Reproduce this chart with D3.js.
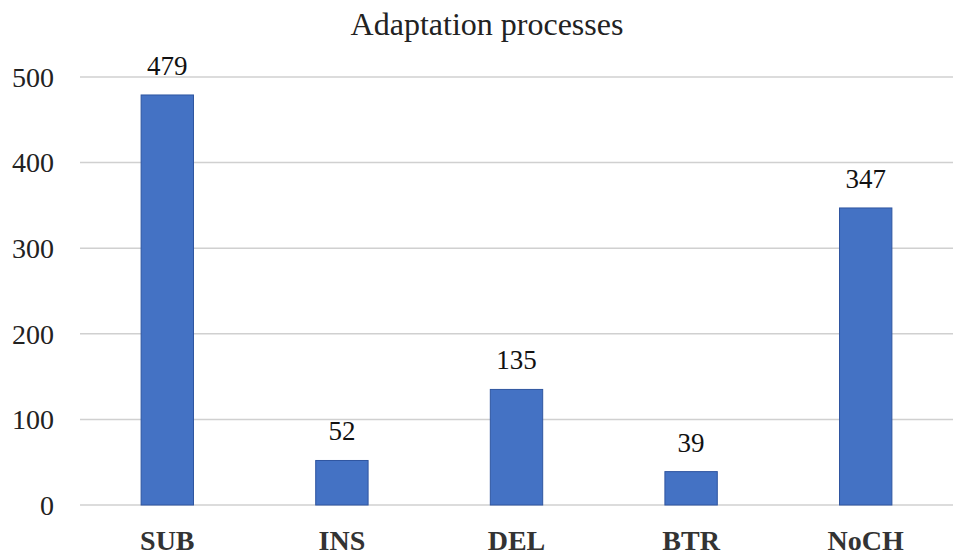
<!DOCTYPE html>
<html>
<head>
<meta charset="utf-8">
<script src="https://cdn.jsdelivr.net/npm/d3@7"></script>
<style>
  body { margin: 0; background: #fff; }
  text { font-family: 'Liberation Serif', 'Times New Roman', Tinos, 'DejaVu Serif', serif; }
</style>
</head>
<body>
<svg id="chart"></svg>
<script>
const categories = ["SUB", "INS", "DEL", "BTR", "NoCH"];
const counts = [479, 52, 135, 39, 347];
const yTicks = [0, 100, 200, 300, 400, 500];
const chartTitle = "Adaptation processes";

const width = 957, height = 557;
const margin = { top: 77, right: 4, bottom: 52, left: 80 };
const serif = "'Liberation Serif', 'Times New Roman', 'DejaVu Serif', serif";

const svg = d3.select("#chart").attr("width", width).attr("height", height);

const x = d3.scaleBand()
    .domain(categories)
    .range([margin.left, width - margin.right])
    .paddingInner(0.7)
    .paddingOuter(0.35);

const y = d3.scaleLinear()
    .domain([0, 500])
    .range([height - margin.bottom, margin.top]);

// gridlines
svg.append("g")
    .selectAll("line")
    .data(yTicks)
    .enter().append("line")
    .attr("x1", margin.left)
    .attr("x2", width - margin.right)
    .attr("y1", d => y(d))
    .attr("y2", d => y(d))
    .attr("stroke", "#d0d0d0")
    .attr("stroke-width", 1.5);

// y axis labels
svg.append("g")
    .selectAll("text")
    .data(yTicks)
    .enter().append("text")
    .attr("x", 54)
    .attr("y", d => y(d))
    .attr("dy", "0.35em")
    .attr("text-anchor", "end")
    .attr("font-family", serif)
    .style("font-size", "28px")
    .style("fill", "#222")
    .text(d => d);

// bars
svg.append("g")
    .selectAll("rect")
    .data(counts)
    .enter().append("rect")
    .attr("x", (d, i) => x(categories[i]))
    .attr("y", d => y(d))
    .attr("width", x.bandwidth())
    .attr("height", d => y(0) - y(d))
    .attr("fill", "#4472C4")
    .attr("stroke", "#2F55A0")
    .attr("stroke-width", 1);

// value labels
svg.append("g")
    .selectAll("text")
    .data(counts)
    .enter().append("text")
    .attr("x", (d, i) => x(categories[i]) + x.bandwidth() / 2)
    .attr("y", d => y(d) - 20)
    .attr("text-anchor", "middle")
    .attr("font-family", serif)
    .style("font-size", "27px")
    .style("fill", "#111")
    .text(d => d);

// category labels
svg.append("g")
    .selectAll("text")
    .data(categories)
    .enter().append("text")
    .attr("x", d => x(d) + x.bandwidth() / 2)
    .attr("y", 550)
    .attr("text-anchor", "middle")
    .attr("font-family", serif)
    .style("font-size", "28px")
    .style("font-weight", "bold")
    .style("fill", "#333")
    .text(d => d);

// title
svg.append("text")
    .attr("x", 487)
    .attr("y", 35)
    .attr("text-anchor", "middle")
    .attr("font-family", serif)
    .style("font-size", "32px")
    .style("fill", "#222")
    .text(chartTitle);
</script>
</body>
</html>
